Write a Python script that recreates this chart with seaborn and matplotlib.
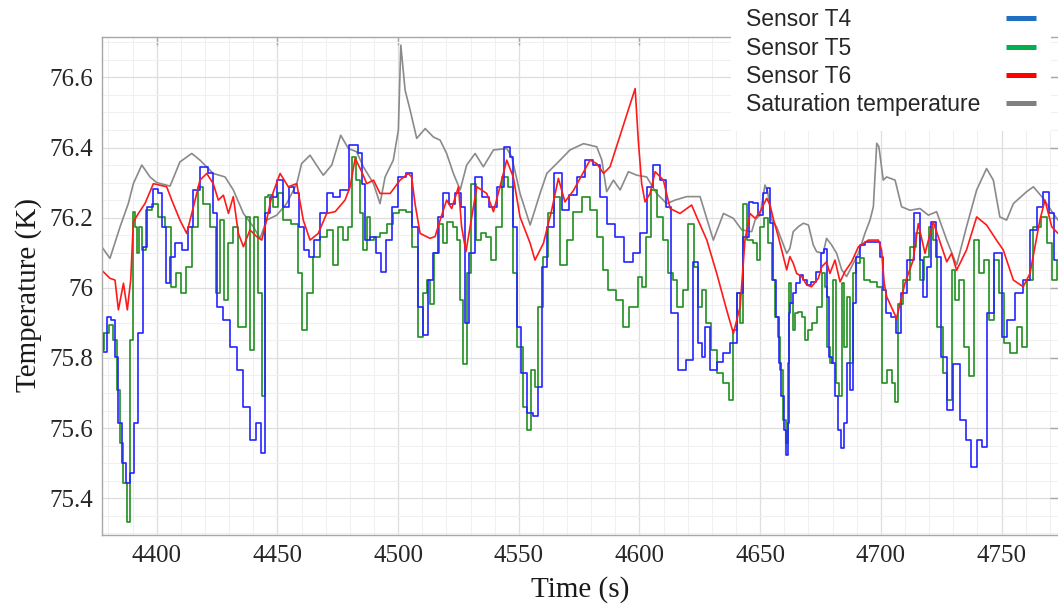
import numpy as np
import pandas as pd
import matplotlib
matplotlib.use("Agg")
import matplotlib.pyplot as plt
from matplotlib.lines import Line2D
from matplotlib.ticker import MultipleLocator, FixedLocator, FixedFormatter
import seaborn as sns

# ---------------- data ----------------
sat_t = [4377.2, 4380.6, 4384.8, 4388.2, 4390.3, 4393.8, 4397.2, 4400.0, 4405.5, 4409.6,
         4414.5, 4417.9, 4423.4, 4428.3, 4431.7, 4435.9, 4440.0, 4442.8, 4445.5, 4449.7,
         4453.8, 4458.0, 4460.0, 4463.5, 4467.6, 4469.0, 4472.5, 4476.2, 4479.4, 4482.8,
         4485.6, 4489.8, 4492.5, 4494.6, 4498.0, 4500.1, 4501.1, 4502.9, 4505.0, 4507.7,
         4511.2, 4514.6, 4517.4, 4520.1, 4522.9, 4525.7, 4528.4, 4531.9, 4535.3, 4539.5,
         4545.0, 4547.1, 4550.5, 4554.7, 4558.8, 4561.6, 4567.1, 4571.2, 4576.8, 4582.3,
         4584.4, 4586.4, 4589.2, 4592.0, 4595.4, 4598.9, 4603.0, 4607.1, 4611.3, 4614.7,
         4619.6, 4625.1, 4630.6, 4634.8, 4638.9, 4642.4, 4646.5,
         4647.9, 4650.0, 4652.0, 4653.1, 4654.8, 4656.8, 4658.9, 4661.0, 4662.3, 4663.7,
         4665.8, 4667.9, 4670.0, 4672.0, 4673.4, 4676.1, 4677.5, 4679.6, 4681.7, 4683.8,
         4685.8, 4687.9, 4690.7, 4693.4, 4695.5, 4696.9, 4698.3, 4699.2, 4701.0,
         4702.4, 4705.9, 4708.6, 4712.1, 4716.2, 4719.7, 4723.1, 4727.3, 4731.4, 4735.5,
         4739.7, 4743.8, 4746.6, 4749.3, 4752.1, 4754.9, 4760.4, 4763.2, 4767.3, 4771.4,
         4773.4]
sat_v = [76.117, 76.084, 76.174, 76.240, 76.297, 76.350, 76.316, 76.300, 76.290, 76.359,
         76.383, 76.364, 76.326, 76.316, 76.279, 76.212, 76.174, 76.141, 76.193, 76.207,
         76.240, 76.297, 76.354, 76.378, 76.335, 76.321, 76.350, 76.435, 76.397, 76.388,
         76.345, 76.297, 76.240, 76.316, 76.364, 76.450, 76.692, 76.563, 76.506, 76.426,
         76.454, 76.430, 76.421, 76.383, 76.326, 76.279, 76.350, 76.383, 76.345, 76.393,
         76.397, 76.373, 76.269, 76.179, 76.269, 76.326, 76.364, 76.393, 76.411, 76.402,
         76.364, 76.274, 76.307, 76.279, 76.331, 76.321, 76.316, 76.269, 76.240, 76.250,
         76.260, 76.260, 76.136, 76.212, 76.198, 76.165, 76.160,
         76.193, 76.208, 76.293, 76.274, 76.193, 76.174, 76.136, 76.098, 76.112, 76.160,
         76.174, 76.184, 76.179, 76.122, 76.103, 76.098, 76.141, 76.122, 76.098, 76.051,
         76.032, 76.060, 76.098, 76.155, 76.193, 76.231, 76.412, 76.402, 76.307,
         76.316, 76.307, 76.231, 76.221, 76.226, 76.207, 76.217, 76.136, 76.065, 76.174,
         76.279, 76.340, 76.307, 76.202, 76.193, 76.240, 76.274, 76.288, 76.255, 76.212,
         76.193]

t6_t = [4377.2, 4380.6, 4382.7, 4384.1, 4386.2, 4387.8, 4389.2, 4390.3, 4392.4, 4395.1,
        4398.6, 4404.1, 4406.2, 4409.6, 4412.4, 4415.2, 4417.9, 4420.7, 4423.4, 4425.5,
        4427.6, 4429.7, 4431.7, 4433.8, 4435.9, 4438.6, 4441.4, 4443.5, 4445.5, 4447.6,
        4451.1, 4454.5, 4458.0, 4460.7, 4463.5, 4466.9, 4470.4, 4473.9, 4478.0, 4480.1,
        4482.2, 4484.9, 4487.0, 4489.8, 4492.5, 4496.7, 4500.8, 4504.2, 4505.6, 4507.0,
        4509.1, 4513.2, 4515.3, 4517.4, 4520.1, 4522.2, 4525.0, 4526.3, 4528.1, 4530.5,
        4532.6, 4536.7, 4539.5, 4542.2, 4545.0, 4547.7, 4550.5, 4554.7, 4556.7, 4560.2,
        4563.6, 4566.4, 4569.1, 4572.6, 4576.0, 4579.5, 4582.3, 4585.1, 4587.8, 4598.2,
        4599.5, 4600.9, 4602.3, 4604.4, 4606.5, 4609.9, 4612.7, 4616.8, 4621.6, 4623.7,
        4627.9, 4632.0, 4636.1, 4638.9, 4641.7, 4643.7, 4645.8,
        4647.9, 4650.0, 4652.7, 4654.1, 4655.4, 4657.5, 4659.6, 4661.0, 4662.3, 4663.7,
        4665.1, 4667.2, 4669.3, 4671.3, 4674.1, 4675.5, 4677.5, 4678.9, 4681.0, 4683.1,
        4685.1, 4687.9, 4690.7, 4694.8, 4699.0, 4700.3, 4701.4,
        4702.4, 4706.5, 4710.0, 4713.4, 4715.5, 4718.3,
        4721.7, 4725.2, 4727.3, 4729.3, 4731.4, 4735.5, 4739.7, 4743.8, 4747.9, 4750.7,
        4754.9, 4759.0, 4761.8, 4765.9, 4768.0, 4770.8, 4773.4]
t6_v = [76.050, 76.027, 76.022, 75.937, 76.013, 75.937, 76.022, 76.188, 76.212, 76.240,
        76.297, 76.288, 76.250, 76.193, 76.155, 76.231, 76.307, 76.326, 76.297, 76.250,
        76.264, 76.212, 76.260, 76.155, 76.117, 76.165, 76.146, 76.136, 76.193, 76.260,
        76.326, 76.288, 76.297, 76.193, 76.136, 76.155, 76.212, 76.217, 76.250, 76.288,
        76.369, 76.331, 76.297, 76.307, 76.269, 76.269, 76.307, 76.326, 76.316, 76.240,
        76.155, 76.141, 76.146, 76.193, 76.250, 76.226, 76.288, 76.174, 76.103, 76.202,
        76.288, 76.269, 76.217, 76.288, 76.364, 76.316, 76.202, 76.127, 76.079, 76.127,
        76.221, 76.312, 76.245, 76.277, 76.320, 76.364, 76.354, 76.326, 76.345, 76.568,
        76.421, 76.297, 76.245, 76.269, 76.331, 76.307, 76.226, 76.212, 76.236, 76.202,
        76.136, 76.041, 75.937, 75.870, 75.946, 76.136, 76.212,
        76.198, 76.217, 76.255, 76.236, 76.198, 76.146, 76.089, 76.051, 76.089, 76.070,
        76.041, 76.032, 76.008, 76.003, 76.027, 76.060, 76.074, 76.041, 76.079, 76.017,
        76.046, 76.074, 76.117, 76.136, 76.136, 76.108, 76.013,
        75.975, 75.913, 76.013, 76.079, 76.183, 76.098,
        76.188, 76.117, 76.074, 76.098, 76.050, 76.108, 76.202, 76.179, 76.136, 76.108,
        76.022, 76.003, 76.041, 76.193, 76.250, 76.174, 76.155]

t4_t = [4377.2, 4378.6, 4380.0, 4382.0, 4383.4, 4384.8, 4386.2, 4388.2, 4389.6, 4391.7,
        4393.1, 4395.1, 4397.2, 4399.3, 4401.4, 4402.7, 4404.8, 4406.2, 4409.0, 4411.7,
        4413.8, 4416.5, 4419.3, 4422.8, 4424.1, 4426.2, 4428.9, 4431.7, 4434.5, 4437.3,
        4440.0, 4442.1, 4444.2, 4445.5, 4448.3, 4451.1, 4453.8, 4455.9, 4458.0, 4460.0,
        4462.1, 4464.2, 4466.3, 4469.0, 4471.8, 4474.6, 4477.3, 4482.2, 4484.2, 4485.6,
        4487.0, 4489.8, 4491.8, 4493.9, 4496.0, 4498.7, 4501.5, 4504.9, 4507.0, 4509.1,
        4511.2, 4513.2, 4515.3, 4517.4, 4520.1, 4522.2, 4525.0, 4527.0, 4528.4, 4530.5,
        4533.2, 4536.0, 4539.5, 4542.2, 4545.7, 4547.1, 4548.4, 4549.8, 4551.9, 4554.7,
        4557.4, 4558.8, 4560.2, 4562.9, 4566.4, 4569.1, 4572.6, 4575.4, 4579.5, 4582.3,
        4585.1, 4587.8, 4592.0, 4595.4, 4598.9, 4601.6, 4604.4, 4607.1, 4609.9, 4611.9,
        4614.1, 4617.5, 4621.0, 4623.0, 4625.1, 4626.5, 4627.9, 4630.6, 4633.4, 4636.1,
        4638.9, 4641.7, 4644.4, 4646.5,
        4647.9, 4650.0, 4652.0, 4653.6, 4654.8, 4656.1, 4657.2, 4658.2, 4659.2, 4660.3,
        4661.0, 4661.7, 4662.1, 4663.0, 4664.1, 4665.5, 4667.2, 4668.6, 4670.0, 4672.0,
        4674.1, 4676.1, 4677.1, 4678.0, 4678.9, 4680.3, 4681.7, 4683.1, 4684.0, 4685.1,
        4686.5, 4687.9, 4689.0, 4690.7, 4692.0, 4694.8, 4699.0, 4700.3, 4701.4,
        4703.1, 4705.2, 4707.2, 4709.3,
        4712.1, 4715.5, 4716.9, 4718.3, 4719.7, 4721.7, 4723.8, 4725.9, 4728.6, 4731.4,
        4734.2, 4736.2, 4738.3, 4741.1, 4743.1, 4745.2, 4748.7, 4751.4, 4753.5, 4757.6,
        4760.4, 4763.2, 4765.9, 4768.7, 4770.8, 4772.5]
t4_v = [75.870, 75.818, 75.918, 75.908, 75.804, 75.614, 75.500, 75.443, 75.471, 75.614,
        75.870, 76.117, 76.231, 76.283, 76.269, 76.174, 76.013, 76.089, 76.127, 76.108,
        76.174, 76.279, 76.345, 76.326, 76.212, 75.946, 75.908, 75.832, 75.766, 75.661,
        75.566, 75.614, 75.528, 76.212, 76.260, 76.307, 76.231, 76.288, 76.269, 76.174,
        76.108, 76.089, 76.136, 76.212, 76.269, 76.260, 76.279, 76.407, 76.383, 76.297,
        76.136, 76.146, 76.098, 76.046, 76.136, 76.231, 76.316, 76.326, 76.174, 75.946,
        75.865, 76.022, 76.098, 76.202, 76.269, 76.240, 76.269, 76.231, 75.899, 76.098,
        76.316, 76.260, 76.231, 76.288, 76.402, 76.373, 76.174, 75.889, 75.756, 75.642,
        75.633, 75.718, 76.060, 76.174, 76.326, 76.221, 76.265, 76.316, 76.364, 76.350,
        76.260, 76.183, 76.146, 76.074, 76.098, 76.155, 76.288, 76.350, 76.307, 76.231,
        75.927, 75.766, 75.794, 76.074, 75.842, 75.804, 75.889, 75.766, 75.789, 75.813,
        75.842, 75.984, 76.146, 76.245,
        76.241, 76.208, 76.270, 76.284, 76.184, 76.022, 75.918, 75.785, 75.690, 75.595,
        75.523, 75.614, 75.927, 75.956, 75.984, 76.013, 76.037, 76.022, 76.008, 76.017,
        76.046, 76.098, 76.112, 75.975, 75.804, 75.785, 75.690, 75.595, 75.542, 75.614,
        75.785, 75.709, 75.956, 76.089, 76.122, 76.131, 76.131, 76.089, 75.994,
        75.927, 75.917, 75.870, 75.984,
        76.079, 76.212, 76.079, 75.975, 76.060, 76.188, 76.089, 75.804, 75.652, 75.784,
        75.623, 75.566, 75.490, 75.566, 75.547, 75.927, 76.098, 75.861, 75.908, 75.984,
        76.022, 76.165, 76.231, 76.274, 76.212, 76.079]

t5_t = [4377.2, 4379.3, 4381.3, 4382.7, 4384.1, 4385.5, 4386.9, 4388.2, 4389.6, 4390.3,
        4391.4, 4392.4, 4393.1, 4394.5, 4396.5, 4399.3, 4402.0, 4404.8, 4406.9, 4409.0,
        4411.0, 4413.1, 4415.9, 4417.9, 4420.7, 4423.4, 4425.5, 4426.9, 4429.0, 4430.4,
        4432.4, 4434.5, 4435.9, 4438.0, 4439.3, 4441.4, 4442.8, 4444.2, 4445.3, 4446.9,
        4449.0, 4451.1, 4453.8, 4457.3, 4459.4, 4460.7, 4463.5, 4466.3, 4469.0, 4471.8,
        4473.9, 4476.0, 4478.0, 4480.1, 4481.7, 4483.5, 4484.9, 4486.3, 4487.7, 4489.1,
        4491.1, 4493.9, 4496.7, 4499.4, 4501.5, 4504.9, 4507.0, 4509.1, 4511.2, 4512.5,
        4513.9, 4516.0, 4518.1, 4519.4, 4521.5, 4523.6, 4525.0, 4526.3, 4527.7, 4529.1,
        4531.2, 4533.2, 4535.3, 4537.4, 4539.5, 4541.5, 4544.3, 4546.4, 4548.4, 4550.5,
        4552.6, 4554.0, 4556.0, 4557.4, 4558.8, 4560.9, 4563.6, 4565.7, 4568.5, 4571.2,
        4574.0, 4578.1, 4580.9, 4583.7, 4585.7, 4588.5, 4592.0, 4594.7, 4596.8, 4598.9,
        4600.2, 4601.6, 4603.7, 4606.2, 4608.5, 4610.6, 4612.7, 4614.7, 4616.8, 4618.9,
        4621.6, 4623.7, 4625.1, 4626.5, 4628.5, 4630.6, 4633.4, 4636.1, 4637.8, 4639.6,
        4641.0, 4642.4, 4643.7, 4645.8,
        4647.9, 4649.2, 4650.6, 4652.7, 4654.1, 4655.4, 4656.8, 4657.8, 4658.9, 4660.0,
        4661.0, 4661.7, 4662.3, 4663.3, 4664.1, 4665.1, 4666.5, 4667.9, 4669.3, 4670.6,
        4672.7, 4674.8, 4676.4, 4677.1, 4678.2, 4679.6, 4681.0, 4682.1, 4683.5, 4684.4,
        4685.4, 4686.5, 4687.9, 4689.0, 4690.7, 4692.0, 4694.1, 4696.9, 4699.6, 4701.0,
        4703.8, 4705.2, 4706.5, 4707.9, 4710.7, 4713.4, 4715.5, 4716.9, 4719.0,
        4721.0, 4722.4, 4724.5, 4726.6, 4728.6, 4730.0, 4731.4, 4733.5, 4735.5, 4737.6,
        4739.7, 4741.8, 4743.8, 4745.9, 4748.0, 4750.0, 4752.1, 4754.9, 4757.6, 4759.7,
        4761.8, 4764.5, 4768.0, 4770.0, 4772.2, 4773.4]
t5_v = [75.822, 75.870, 75.894, 75.851, 75.709, 75.557, 75.443, 75.333, 75.851, 76.217,
        76.174, 76.098, 76.174, 76.108, 76.221, 76.240, 76.202, 76.174, 76.003, 76.041,
        75.984, 76.060, 76.174, 76.288, 76.240, 76.174, 75.984, 76.193, 75.965, 76.127,
        76.174, 75.889, 75.889, 76.202, 75.822, 76.202, 75.984, 75.690, 76.260, 76.264,
        76.231, 76.269, 76.193, 76.183, 76.041, 75.880, 75.984, 76.089, 76.146, 76.165,
        76.065, 76.174, 76.136, 76.174, 76.373, 76.307, 76.212, 76.108, 76.202, 76.136,
        76.146, 76.155, 76.183, 76.212, 76.221, 76.217, 76.117, 75.861, 75.984, 76.022,
        75.955, 76.098, 76.183, 76.127, 76.188, 76.174, 76.136, 75.965, 75.784, 76.041,
        76.297, 76.136, 76.155, 76.146, 76.079, 76.174, 76.316, 76.288, 76.041, 75.832,
        75.661, 75.594, 75.766, 75.718, 75.946, 76.089, 76.212, 76.260, 76.065, 76.136,
        76.216, 76.260, 76.221, 76.146, 76.050, 75.994, 75.965, 75.889, 75.946, 75.946,
        76.032, 76.003, 76.146, 76.279, 76.202, 76.136, 76.041, 76.022, 75.946, 75.994,
        76.183, 76.060, 75.946, 75.994, 75.899, 75.822, 75.756, 75.728, 75.680, 75.880,
        75.984, 75.899, 76.240, 76.136,
        76.127, 76.079, 76.174, 76.198, 76.127, 76.022, 75.918, 75.861, 75.766, 75.623,
        75.557, 75.785, 76.013, 75.956, 75.880, 75.927, 75.932, 75.918, 75.851, 75.880,
        75.899, 75.946, 76.041, 76.003, 75.832, 75.785, 76.022, 75.728, 75.690, 76.013,
        75.832, 75.975, 75.785, 76.041, 76.070, 76.084, 76.022, 76.017, 76.003, 75.728,
        75.766, 75.728, 75.675, 75.955, 76.022, 76.117, 76.155, 76.022, 76.089,
        76.174, 76.136, 75.889, 75.756, 75.680, 76.050, 75.965, 76.022, 75.832, 75.747,
        76.136, 76.041, 76.079, 75.908, 76.079, 75.984, 75.842, 75.813, 75.889, 75.832,
        76.022, 76.174, 76.202, 76.127, 76.022, 76.079]

x_ticks = [4400, 4450, 4500, 4550, 4600, 4650, 4700, 4750]
y_ticks = [75.4, 75.6, 75.8, 76.0, 76.2, 76.4, 76.6]
y_tick_labels = ["75.4", "75.6", "75.8", "76", "76.2", "76.4", "76.6"]
legend_labels = ["Sensor T4", "Sensor T5", "Sensor T6", "Saturation temperature"]
legend_colors = ["#1f6fc4", "#00b050", "#ff0000", "#808080"]

# ---------------- styling ----------------
sns.set_theme(style="white")
plt.rcParams["font.family"] = ["Liberation Serif", "DejaVu Serif"]

W, H = 1058, 607
DPI = 100
fig = plt.figure(figsize=(W / DPI, H / DPI), dpi=DPI)
ax = fig.add_axes([101.5 / W, 1 - 535 / H, (W - 101.5) / W, (535 - 36.7) / H])

df_sat = pd.DataFrame({"t": sat_t, "v": sat_v})
df_t6 = pd.DataFrame({"t": t6_t, "v": t6_v})
df_t4 = pd.DataFrame({"t": t4_t, "v": t4_v})
df_t5 = pd.DataFrame({"t": t5_t, "v": t5_v})

lw = 1.2
sns.lineplot(data=df_sat, x="t", y="v", ax=ax, color="#8a8a8a", lw=lw, estimator=None, sort=False)
sns.lineplot(data=df_t5, x="t", y="v", ax=ax, color="#1f8f1f", lw=lw, estimator=None, sort=False,
             drawstyle="steps-mid")
sns.lineplot(data=df_t4, x="t", y="v", ax=ax, color="#2424ff", lw=lw, estimator=None, sort=False,
             drawstyle="steps-mid")
sns.lineplot(data=df_t6, x="t", y="v", ax=ax, color="#ff1a1a", lw=lw, estimator=None, sort=False)

ax.set_xlim(4377.1, 4773.4)
ax.set_ylim(75.295, 76.716)

ax.xaxis.set_major_locator(FixedLocator(x_ticks))
ax.set_xticklabels([str(v) for v in x_ticks])
ax.yaxis.set_major_locator(FixedLocator(y_ticks))
ax.yaxis.set_major_formatter(FixedFormatter(y_tick_labels))
ax.xaxis.set_minor_locator(MultipleLocator(10))
ax.yaxis.set_minor_locator(MultipleLocator(0.05))

ax.grid(which="major", color="#dedede", lw=0.9)
ax.grid(which="minor", color="#f0f0f0", lw=0.8)
ax.set_axisbelow(True)

spine_c = "#a8a8a8"
for s in ["left", "bottom", "top"]:
    ax.spines[s].set_color(spine_c)
    ax.spines[s].set_linewidth(1.0)
ax.spines["right"].set_visible(False)

ax.tick_params(which="major", direction="in", length=6, width=1.0, color=spine_c,
               top=True, right=True, labelsize=18, labelcolor="#262626")
ax.tick_params(which="minor", length=0)
ax.tick_params(axis="x", pad=7)
ax.tick_params(axis="y", pad=6)

ax.set_xlabel("Time (s)", fontsize=21, color="#1a1a1a", labelpad=7)
ax.set_ylabel("Temperature (K)", fontsize=21, color="#1a1a1a")
ax.yaxis.set_label_coords(-0.062, 0.482)

# legend: labels left-aligned, coloured handles aligned on the right
leg_font = {"family": ["Liberation Sans", "DejaVu Sans"], "size": 16.5}
fs_px = 16.5 * DPI / 72
base_gap_px = 26.0
handles = [Line2D([], [], color=c, lw=3.6, solid_capstyle="butt") for c in legend_colors]
leg = ax.legend(handles, legend_labels, loc="upper left",
                bbox_to_anchor=(731 / W, 1.011), bbox_transform=fig.transFigure,
                markerfirst=False, frameon=True, facecolor="white", edgecolor="none",
                framealpha=1.0, fancybox=False, handlelength=30 / fs_px,
                handletextpad=base_gap_px / fs_px, labelspacing=0.235, borderpad=0.65,
                borderaxespad=0.0, prop=leg_font)
leg.set_zorder(10)

renderer = fig.canvas.get_renderer()
widths = [t.get_window_extent(renderer=renderer).width for t in leg.get_texts()]
maxw = max(widths)
try:
    column = leg._legend_handle_box.get_children()[0]
    rows = column.get_children()
    px2pt = 72.0 / DPI
    for row, w in zip(rows, widths):
        row.sep = (base_gap_px + (maxw - w)) * px2pt
except Exception:
    pass

fig.savefig("out.png", dpi=DPI, facecolor="white")
